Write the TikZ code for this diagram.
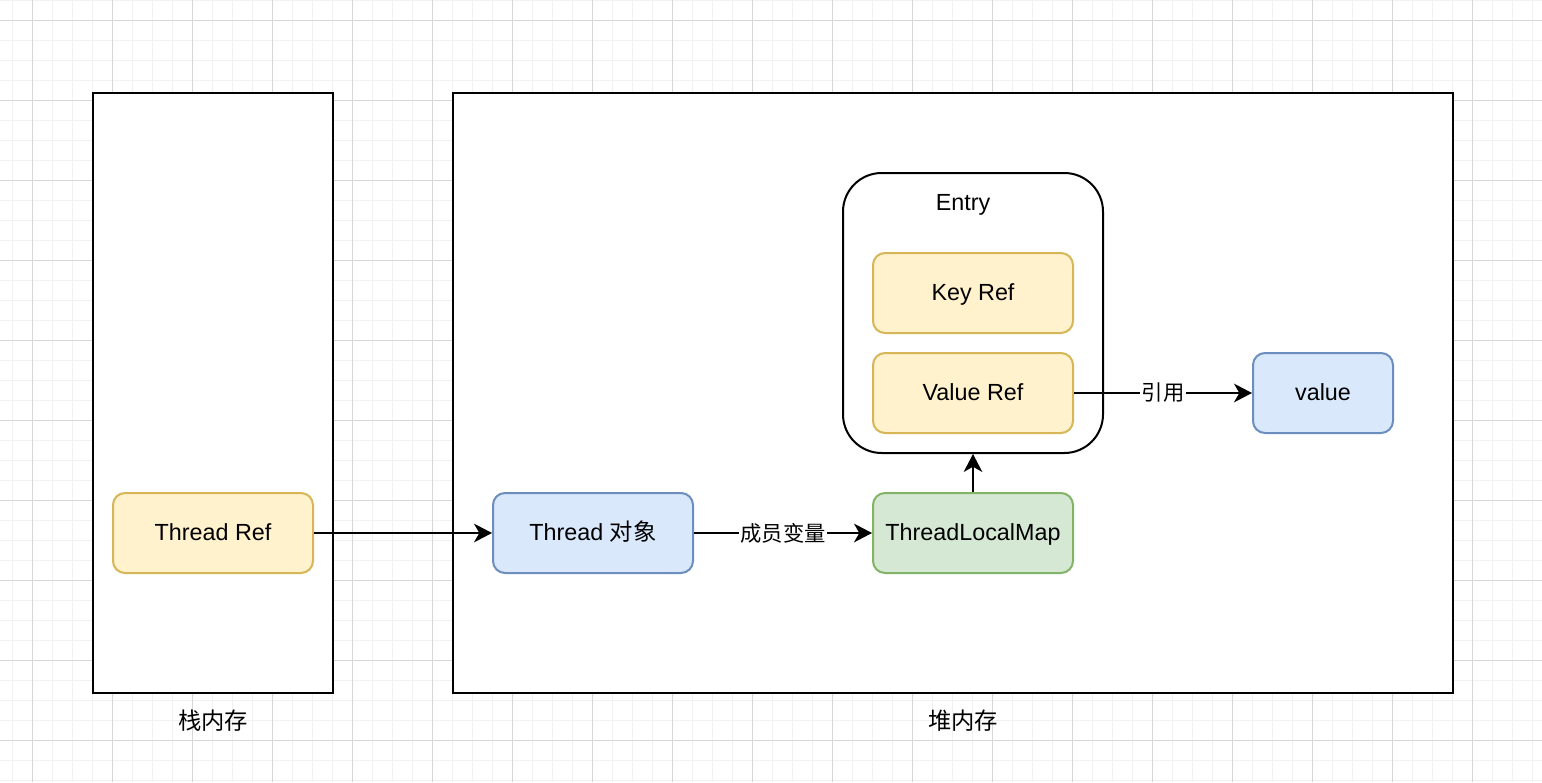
\documentclass[tikz,border=0pt]{standalone}
\usepackage{fontspec}
\setmainfont{Liberation Sans}
\newfontfamily\cjk{Noto Sans CJK SC}
\usetikzlibrary{arrows.meta}
\definecolor{minorgrid}{HTML}{F1F1F1}
\definecolor{majorgrid}{HTML}{D6D6D6}
\definecolor{yfill}{HTML}{FFF2CC}
\definecolor{ydraw}{HTML}{D6B656}
\definecolor{bfill}{HTML}{DAE8FC}
\definecolor{bdraw}{HTML}{6C8EBF}
\definecolor{gfill}{HTML}{D5E8D4}
\definecolor{gdraw}{HTML}{82B366}
\tikzset{
  nodefont/.style={font=\fontsize{17.5}{21}\selectfont, text height=12.5pt, text depth=2pt},
  smallbox/.style={nodefont, draw, line width=1.5pt, rounded corners=9pt,
    minimum width=150pt, minimum height=60pt, inner sep=0pt, align=center},
  yellowbox/.style={smallbox, fill=yfill, draw=ydraw},
  bluebox/.style={smallbox, fill=bfill, draw=bdraw},
  greenbox/.style={smallbox, fill=gfill, draw=gdraw},
  container/.style={draw=black, fill=white, line width=1.5pt, inner sep=0pt},
  plainlabel/.style={nodefont, inner sep=0pt},
  edgelabel/.style={font=\fontsize{16}{19}\selectfont\cjk, fill=white, inner sep=1pt},
  arrowline/.style={line width=1.5pt, -{Stealth[length=13.5pt,width=14pt,inset=4pt]}}
}
\begin{document}
\begin{tikzpicture}[x=0.75pt,y=-0.75pt]
\useasboundingbox (0,0) rectangle (1542,782);
\fill[white] (0,0) rectangle (1542,782);
% grid
\foreach \x in {12,32,...,1532} \draw[minorgrid, line width=0.75pt] (\x,0) -- (\x,782);
\foreach \y in {0,20,...,780} \draw[minorgrid, line width=0.75pt] (0,\y) -- (1542,\y);
\foreach \x in {32,112,...,1472} \draw[majorgrid, line width=0.75pt] (\x,0) -- (\x,782);
\foreach \y in {20,100,...,740} \draw[majorgrid, line width=0.75pt] (0,\y) -- (1542,\y);

% containers
\node[container, minimum width=180pt, minimum height=450pt] (stack) at (213,393) {};
\node[container, minimum width=750pt, minimum height=450pt] (heap) at (953,393) {};
\node[plainlabel] (stacklbl) at (213,722) {\cjk 栈内存};
\node[plainlabel] (heaplbl) at (963,722) {\cjk 堆内存};

% entry
\node[container, rounded corners=29pt, minimum width=195pt, minimum height=210pt] (entry) at (973,313) {};
\node[plainlabel] (entrylbl) at (963,203) {Entry};
\node[yellowbox] (keyref) at (973,293) {Key Ref};
\node[yellowbox] (valref) at (973,393) {Value Ref};
\node[bluebox, minimum width=105pt] (value) at (1323,393) {value};

% bottom row
\node[yellowbox] (tref) at (213,533) {Thread Ref};
\node[bluebox] (tobj) at (593,533) {Thread {\cjk 对象}};
\node[greenbox] (tlm) at (973,533) {ThreadLocalMap};

% connectors
\draw[arrowline] (tref.east) -- (tobj.west);
\draw[arrowline] (tobj.east) -- node[edgelabel] {成员变量} (tlm.west);
\draw[arrowline] (tlm.north) -- (entry.south);
\draw[arrowline] (valref.east) -- node[edgelabel] {引用} (value.west);
\end{tikzpicture}
\end{document}
